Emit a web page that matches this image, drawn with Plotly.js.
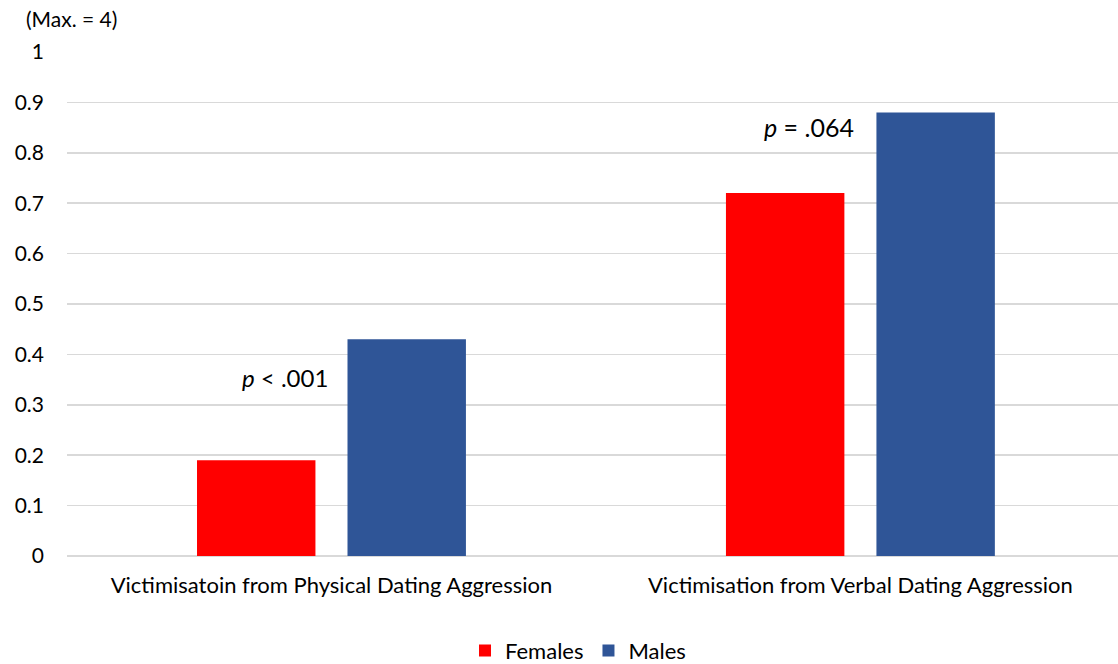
<!DOCTYPE html>
<html>
<head>
<meta charset="utf-8">
<script src="https://cdn.plot.ly/plotly-3.0.1.min.js"></script>
<style>html,body{margin:0;padding:0;background:#fff;}#chart{width:1118px;height:664px;}</style>
</head>
<body>
<div id="chart"></div>
<script>
var categories = ["Victimisatoin from Physical Dating Aggression", "Victimisation from Verbal Dating Aggression"];
var females = [0.19, 0.72];
var males = [0.43, 0.88];
var seriesNames = ["Females", "Males"];
var pLabels = ["<i>p</i> < .001", "<i>p</i> = .064"];
var yTickVals = [0, 0.1, 0.2, 0.3, 0.4, 0.5, 0.6, 0.7, 0.8, 0.9, 1];
var yTickText = ["0", "0.1", "0.2", "0.3", "0.4", "0.5", "0.6", "0.7", "0.8", "0.9", "1"];
var yTitle = "(Max. = 4)";

var font = "Lato, 'Open Sans', sans-serif";
var traces = [
  {type: "bar", name: seriesNames[0], x: categories, y: females, marker: {color: "#FF0000"}},
  {type: "bar", name: seriesNames[1], x: categories, y: males, marker: {color: "#2F5597"}}
];
var annotations = [
  {xref: "x", yref: "y", x: categories[0], y: Math.max(females[0], males[0]), text: pLabels[0], showarrow: false, xshift: -46, yshift: -38, font: {family: font, size: 24, color: "#000"}},
  {xref: "x", yref: "y", x: categories[1], y: Math.max(females[1], males[1]), text: pLabels[1], showarrow: false, xshift: -51, yshift: -15, font: {family: font, size: 25, color: "#000"}},
  {xref: "paper", yref: "paper", x: -0.041, y: 1.0, xanchor: "left", yanchor: "middle", yshift: 34, text: yTitle, showarrow: false, font: {family: font, size: 21, color: "#000"}}
];
var layout = {
  width: 1118, height: 664,
  margin: {l: 67, r: 0, t: 52, b: 108},
  paper_bgcolor: "#fff", plot_bgcolor: "#fff",
  barmode: "group", bargap: 0.431, bargroupgap: 0.213,
  font: {family: font, size: 22, color: "#000"},
  xaxis: {type: "category", range: [-0.5, 1.487], showgrid: false, zeroline: false, showline: false, ticks: "", tickfont: {family: font, size: 22, color: "#000"}, ticklabelstandoff: 14},
  yaxis: {range: [0, 1], tickvals: yTickVals, ticktext: yTickText, showgrid: true, gridcolor: "#D9D9D9", gridwidth: 1.5, zeroline: true, zerolinecolor: "#D9D9D9", zerolinewidth: 2, showline: false, ticks: "", tickfont: {family: font, size: 21, color: "#000"}, ticklabelstandoff: 22},
  showlegend: true,
  legend: {orientation: "h", xref: "container", yref: "container", x: 0.517, xanchor: "center", y: 0.02, yanchor: "middle", font: {family: font, size: 22, color: "#000"}, itemwidth: 30},
  annotations: annotations
};
Plotly.newPlot("chart", traces, layout, {displayModeBar: false, staticPlot: true});
</script>
</body>
</html>
